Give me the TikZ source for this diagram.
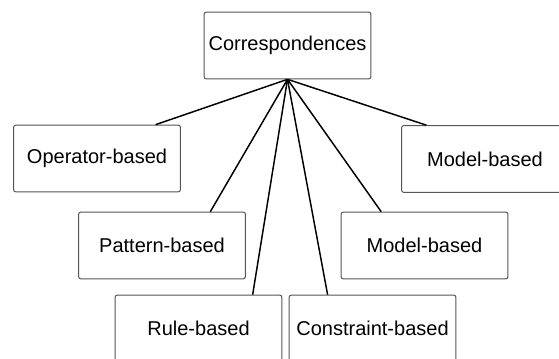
\documentclass[tikz,border=0pt]{standalone}
\usepackage{fontspec}
\setmainfont{Liberation Sans}

\begin{document}
\begin{tikzpicture}[x=0.75pt,y=0.75pt,yscale=-1,xscale=1,
  kindbox/.style={draw={rgb,255:red,85;green,85;blue,85},line width=0.75pt,rounded corners=1.5pt,
    minimum width=125pt,minimum height=50pt,inner sep=0pt,font=\fontsize{15}{18}\selectfont},
  branch/.style={draw=black,line width=1.1pt}]
%set diagram size to 559 x 359, boxes at the edges are cut off
\useasboundingbox (0,0) rectangle (559,359);
\clip (0,0) rectangle (559,359);

% Text Node
\node [kindbox] (corr) at (287.5,45.5) {Correspondences};
% Text Node
\node [kindbox] (oper) at (97,158.5) {Operator-based};
% Text Node
\node [kindbox] (patt) at (162,245.5) {Pattern-based};
% Text Node
\node [kindbox] (rule) at (198.5,328.5) {Rule-based};
% Text Node
\node [kindbox] (cons) at (372.5,328.5) {Constraint-based};
% Text Node
\node [kindbox] (modm) at (424.5,245.5) {Model-based};
% Text Node
\node [kindbox] (modr) at (485,159) {Model-based};

%Straight Lines
\draw [branch] (corr.south) -- (oper.30) ;
\draw [branch] (corr.south) -- (patt.35) ;
\draw [branch] (corr.south) -- (rule.32) ;
\draw [branch] (corr.south) -- (cons.143) ;
\draw [branch] (corr.south) -- (modm.142) ;
\draw [branch] (corr.south) -- (modr.150) ;

\end{tikzpicture}
\end{document}
